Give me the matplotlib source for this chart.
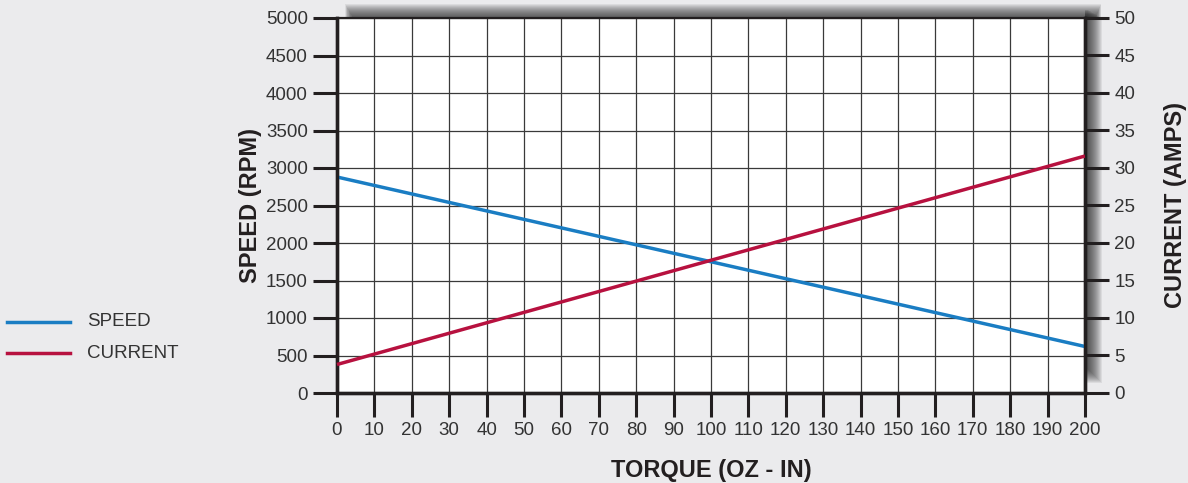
import matplotlib
matplotlib.use("Agg")
import matplotlib.pyplot as plt
from matplotlib.patches import Rectangle
import numpy as np

# data
torque = [0, 200]
speed_rpm = [2880, 620]
current_amps = [3.8, 31.6]

speed_ticks = list(range(0, 5001, 500))
current_ticks = list(range(0, 51, 5))
torque_ticks = list(range(0, 201, 10))

bg = "#ebebed"
dark = "#231f20"
blue = "#1a7dc3"
red = "#b7113f"

plt.rcParams["font.family"] = ["Liberation Sans Narrow", "Liberation Sans", "DejaVu Sans"]

fig = plt.figure(figsize=(11.88, 4.83), dpi=100, facecolor=bg)
W, H = 1188, 483
x0, x1, y0, y1 = 337, 1085, 18, 393
ax = fig.add_axes([x0 / W, 1 - y1 / H, (x1 - x0) / W, (y1 - y0) / H])
ax.set_facecolor("white")

# drop shadow on top and right (outside the plot)
for i in range(15):
    a = 0.08
    fig.patches.append(Rectangle(((x0 + 8 + i * 0.6) / W, (H - y0) / H),
                                 (x1 - x0 + 8 - i) / W, (14 - i) / H,
                                 transform=fig.transFigure, color="#222", alpha=a, lw=0, zorder=0))
    fig.patches.append(Rectangle((x1 / W, (H - y1 + 10 + i) / H),
                                 (17 - i) / W, (y1 - y0 - 10 - i * 0.4) / H,
                                 transform=fig.transFigure, color="#222", alpha=a, lw=0, zorder=0))

ax.plot(torque, speed_rpm, color=blue, lw=2.5, solid_capstyle="butt", zorder=5, clip_on=False)
ax.set_xlim(0, 200)
ax.set_ylim(0, 5000)
ax.set_xticks(torque_ticks)
ax.set_yticks(speed_ticks)
ax.grid(True, color="#3a3a3a", lw=0.9)
ax.set_axisbelow(True)

ax2 = ax.twinx()
ax2.plot(torque, current_amps, color=red, lw=2.5, solid_capstyle="butt", zorder=5, clip_on=False)
ax2.set_ylim(0, 50)
ax2.set_yticks(current_ticks)

for a in (ax, ax2):
    for s in a.spines.values():
        s.set_color(dark)
        s.set_linewidth(2.4)
    a.spines["top"].set_linewidth(1.5)
    a.tick_params(length=17, width=2.2, color=dark, labelsize=13.5, labelcolor="#333", pad=4)

bold = dict(fontsize=17, fontweight="bold", color=dark, family=["Liberation Sans", "DejaVu Sans"])
ax.set_ylabel("SPEED (RPM)", labelpad=3, **bold)
ax2.set_ylabel("CURRENT (AMPS)", rotation=90, labelpad=21, **bold)
ax.set_xlabel("TORQUE (OZ - IN)", labelpad=14, **bold)

# legend at the far left
for lbl, col, yy in (("SPEED", blue, 322), ("CURRENT", red, 353)):
    fig.add_artist(plt.Line2D([7 / W, 70 / W], [1 - yy / H] * 2, color=col, lw=2.5,
                              transform=fig.transFigure))
    fig.text(87 / W, 1 - yy / H, lbl, fontsize=13.5, color="#333", va="center", ha="left")

fig.savefig("out.png", dpi=100, facecolor=bg)
